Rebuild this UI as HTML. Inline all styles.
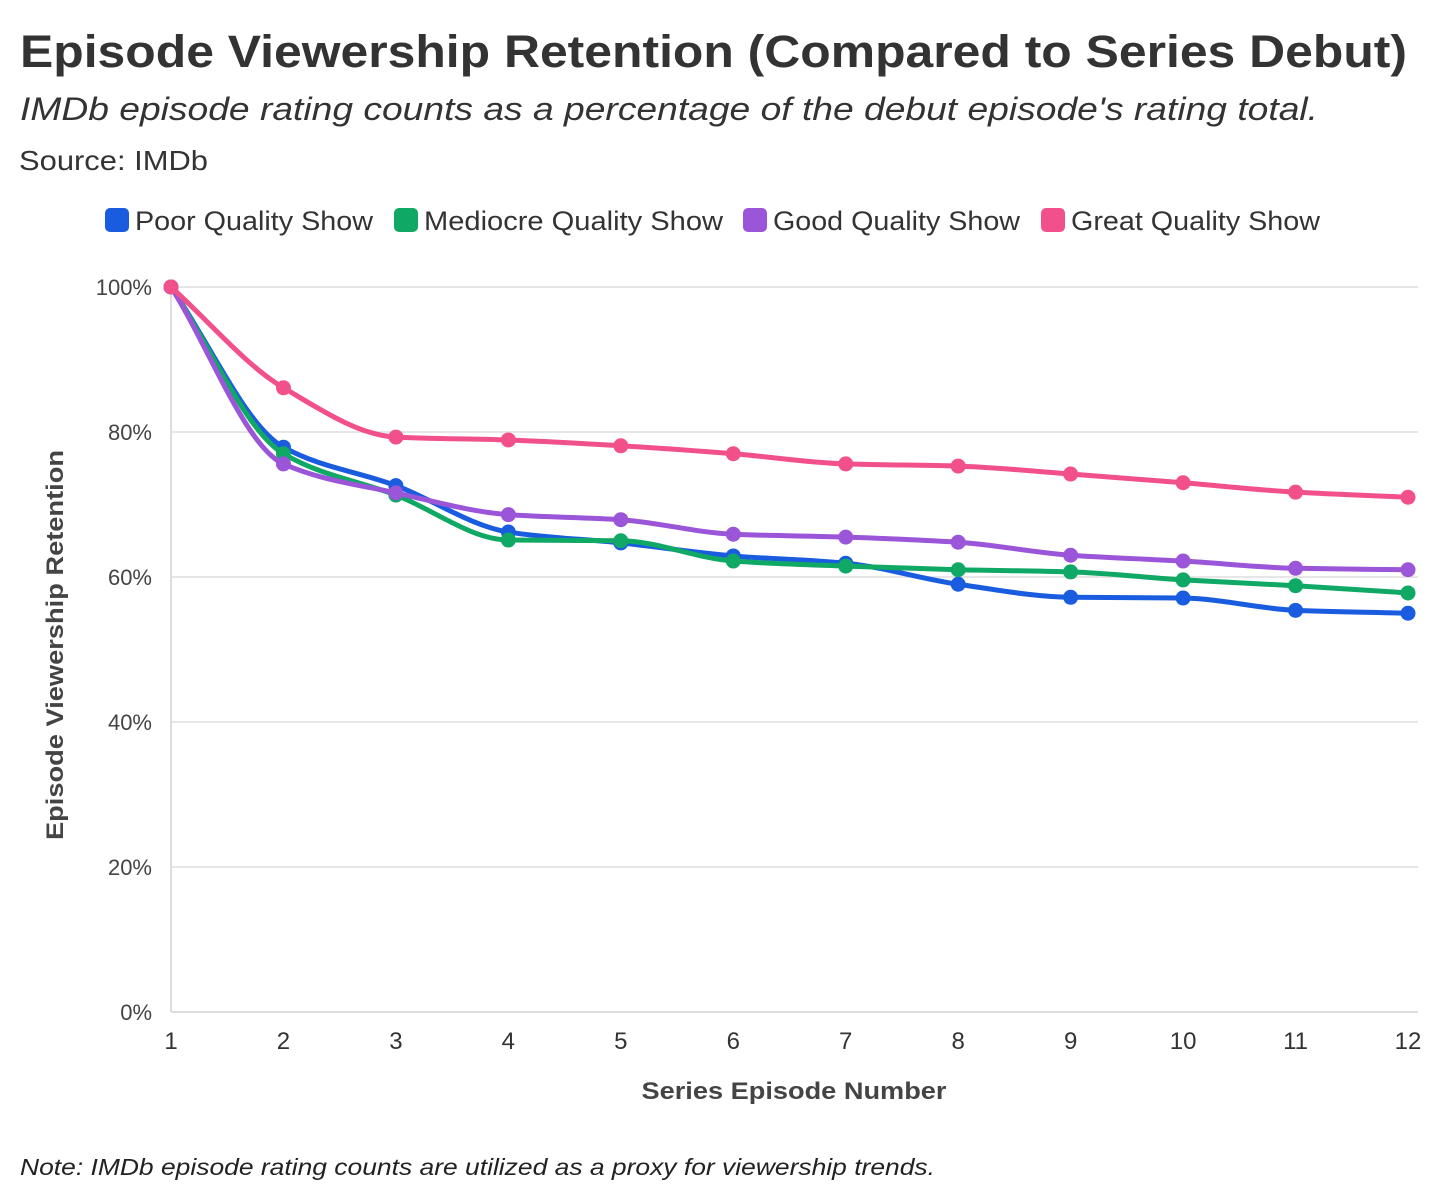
<!DOCTYPE html>
<html><head><meta charset="utf-8"><style>
body{margin:0;background:#fff;}
svg{display:block;font-family:"Liberation Sans",sans-serif;}
</style></head><body>
<svg id="chart" width="1456" height="1201" xmlns="http://www.w3.org/2000/svg">
<text x="20" y="67" font-size="45" font-weight="bold" fill="#333" textLength="1387" lengthAdjust="spacingAndGlyphs">Episode Viewership Retention (Compared to Series Debut)</text>
<text x="20" y="120" font-size="32" font-style="italic" fill="#333" textLength="1298" lengthAdjust="spacingAndGlyphs">IMDb episode rating counts as a percentage of the debut episode's rating total.</text>
<text x="19" y="170" font-size="28" fill="#333" textLength="189" lengthAdjust="spacingAndGlyphs">Source: IMDb</text>
<g id="legend"></g>
<g id="grid"></g>
<g id="series"></g>
<text transform="translate(63,645) rotate(-90)" text-anchor="middle" font-size="24" font-weight="bold" fill="#444" textLength="390" lengthAdjust="spacingAndGlyphs">Episode Viewership Retention</text>
<text x="794" y="1099" text-anchor="middle" font-size="24" font-weight="bold" fill="#444" textLength="305" lengthAdjust="spacingAndGlyphs">Series Episode Number</text>
<text x="20" y="1175" font-size="23" font-style="italic" fill="#222" textLength="915" lengthAdjust="spacingAndGlyphs">Note: IMDb episode rating counts are utilized as a proxy for viewership trends.</text>
</svg>
<script>
const episodes=[1,2,3,4,5,6,7,8,9,10,11,12];
const yTicks=[0,20,40,60,80,100];
const seriesNames=["Poor Quality Show","Mediocre Quality Show","Good Quality Show","Great Quality Show"];
const seriesColors=["#1a5ce0","#0fa865","#9b55d9","#f2508a"];
const poor=[100,77.9,72.6,66.2,64.7,62.9,61.9,59.0,57.2,57.1,55.4,55.0];
const mediocre=[100,77.0,71.3,65.1,65.0,62.2,61.5,61.0,60.7,59.6,58.8,57.8];
const good=[100,75.6,71.6,68.6,67.9,65.9,65.5,64.8,63.0,62.2,61.2,61.0];
const great=[100,86.1,79.3,78.9,78.1,77.0,75.6,75.3,74.2,73.0,71.7,71.0];
const allSeries=[poor,mediocre,good,great];
const NS="http://www.w3.org/2000/svg";
const x=e=>171+(e-1)*(1408-171)/11;
const y=v=>1012-v*7.25;
function mk(tag,attrs,parent){const el=document.createElementNS(NS,tag);for(const k in attrs)el.setAttribute(k,attrs[k]);parent.appendChild(el);return el;}
const grid=document.getElementById('grid');
yTicks.forEach(t=>{
  const l=mk('line',{x1:171,x2:1418,y1:y(t),y2:y(t),stroke:t===0?'#ddd':'#e6e6e6','stroke-width':2},grid);
  
  
  const tx=mk('text',{x:152,y:y(t)+8,'text-anchor':'end','font-size':22,fill:'#444'},grid);
  tx.textContent=t+'%';
  
  
});
const ax=mk('line',{x1:171,x2:171,y1:280,y2:1012,stroke:'#ddd','stroke-width':2},grid);


episodes.forEach(e=>{
  const tx=mk('text',{x:x(e),y:1049,'text-anchor':'middle','font-size':24,fill:'#333'},grid);
  tx.textContent=e;
  
  
});
function monotone(px,py){
  const n=px.length,d=[],m=[];
  for(let i=0;i<n-1;i++)d.push((py[i+1]-py[i])/(px[i+1]-px[i]));
  m[0]=d[0];m[n-1]=d[n-2];
  for(let i=1;i<n-1;i++){m[i]=(d[i-1]*d[i]<=0)?0:3*(d[i-1]+d[i])/((2*d[i]+d[i-1])/d[i-1]*0+ (d[i-1]+d[i])/d[i-1]*0 + 0+ (1/d[i-1]+1/d[i])*((d[i-1]+d[i])/2)*2/ ( (d[i-1]+d[i])/2 ) );}
  for(let i=1;i<n-1;i++){m[i]=(d[i-1]*d[i]<=0)?0:2/(1/d[i-1]+1/d[i]);}
  let s='M'+px[0]+','+py[0];
  for(let i=0;i<n-1;i++){const h=(px[i+1]-px[i])/3;
    s+=' C'+(px[i]+h)+','+(py[i]+m[i]*h)+' '+(px[i+1]-h)+','+(py[i+1]-m[i+1]*h)+' '+px[i+1]+','+py[i+1];}
  return s;
}
const sg=document.getElementById('series');
allSeries.forEach((vals,si)=>{
  const g=mk('g',{},sg);
  
  
  const px=episodes.map(x),py=vals.map(y);
  const p=mk('path',{d:monotone(px,py),fill:'none',stroke:seriesColors[si],'stroke-width':5,'stroke-linejoin':'round'},g);
  
  
  vals.forEach((v,i)=>{
    const c=mk('circle',{cx:x(episodes[i]),cy:y(v),r:7.5,fill:seriesColors[si]},g);
    
    
  });
});
const lg=document.getElementById('legend');
const lx=[105,394,743,1041],lw=[238,299,247,249];
seriesNames.forEach((n,i)=>{
  const g=mk('g',{},lg);
  
  
  mk('rect',{x:lx[i],y:208,width:24,height:24,rx:5,fill:seriesColors[i]},g);
  const t=mk('text',{x:lx[i]+30,y:230,'font-size':27,fill:'#333',textLength:lw[i],lengthAdjust:'spacingAndGlyphs'},g);
  t.textContent=n;
});
</script>
</body></html>
